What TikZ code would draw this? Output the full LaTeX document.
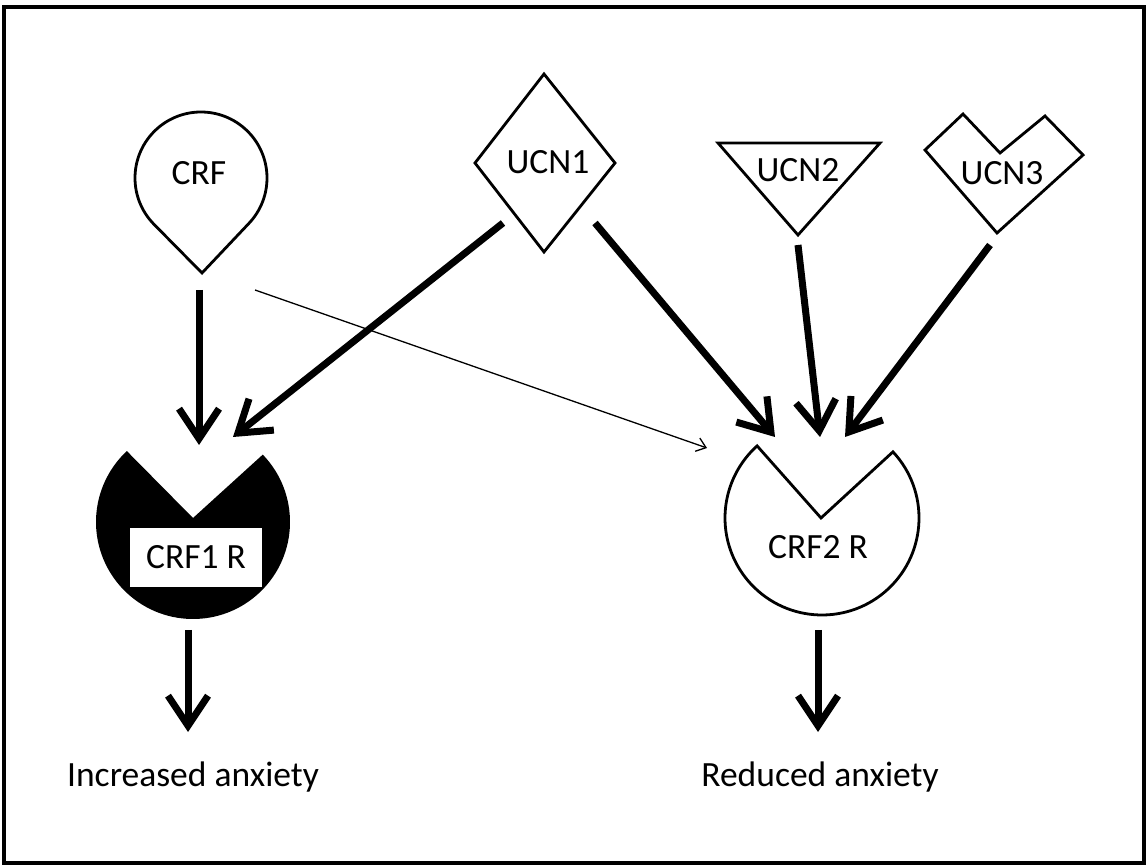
\documentclass[tikz,border=0pt]{standalone}
\usepackage{fontspec}
\setmainfont{Carlito}
\usetikzlibrary{arrows.meta,calc}
\tikzset{
  shapeline/.style={draw=black, line width=2.8pt, line join=miter, fill=white},
  bigarrow/.style={line width=7pt, -{Straight Barb[length=30pt,width=40pt,line width=7pt]}},
  thinarrow/.style={line width=1.3pt, -{Straight Barb[length=9pt,width=14pt,line width=1.3pt]}},
  lbl/.style={font=\fontsize{35.5}{40}\selectfont, inner sep=0pt},
}
\begin{document}
\begin{tikzpicture}[x=1pt,y=1pt]
\useasboundingbox (0,0) rectangle (1147,867);
\fill[white] (0,0) rectangle (1147,867);
% frame
\draw[line width=3.2pt] (4,4) rectangle (1144,860);

% CRF teardrop
\draw[shapeline] (202,594) -- ($(201,689)+(-44:66)$) arc[start angle=-44, end angle=224, radius=66] -- cycle;
\node[lbl] (crf) at (199,694) {CRF};

% UCN1 diamond
\draw[shapeline] (544,793) -- (615,704) -- (544,615) -- (475,704) -- cycle;
\node[lbl] (ucn1) at (548,705) {UCN1};

% UCN2 triangle
\draw[shapeline] (718,724) -- (880,724) -- (798,632) -- cycle;
\node[lbl] (ucn2) at (798,697) {UCN2};

% UCN3 notched diamond
\draw[shapeline] (925,717) -- (963,753) -- (1000,714) -- (1045,751) -- (1083,712) -- (997,634) -- cycle;
\node[lbl] (ucn3) at (1002,694) {UCN3};

% CRF1 R black receptor
\fill[black] (193,349) -- ($(193,345)+(44:97)$) arc[start angle=44, end angle=-227, radius=97] -- cycle;
\fill[white] (130,280) rectangle (262,339);
\node[lbl] (crf1r) at (196,310) {CRF1 R};

% CRF2 R white receptor
\draw[shapeline] (821,349) -- ($(822,349)+(43:97)$) arc[start angle=43, end angle=-228, radius=97] -- cycle;
\node[lbl] (crf2r) at (818,320) {CRF2 R};

% outcome labels
\node[lbl] (inc) at (193,90) {Increased anxiety};
\node[lbl] (red) at (820,90) {Reduced anxiety};

% connector end points
\coordinate (crfA) at (199,577);
\coordinate (crfB) at (255,577);
\coordinate (u1A) at (503,644);
\coordinate (u1B) at (595,644);
\coordinate (u2A) at (798,622);
\coordinate (u3A) at (990,622);
\coordinate (r1in) at (199,422);
\coordinate (r1in2) at (233,430);
\coordinate (r2inA) at (707,419);
\coordinate (r2inB) at (775,430);
\coordinate (r2inC) at (820,430);
\coordinate (r2inD) at (845,430);
\coordinate (r1out) at (188,237);
\coordinate (r2out) at (818,237);
\coordinate (incT) at (188,135);
\coordinate (redT) at (818,135);

\draw[bigarrow] (crfA) -- (r1in);
\draw[bigarrow] (u1A) -- (r1in2);
\draw[bigarrow] (u1B) -- (r2inB);
\draw[thinarrow] (crfB) -- (r2inA);
\draw[bigarrow] (u2A) -- (r2inC);
\draw[bigarrow] (u3A) -- (r2inD);
\draw[bigarrow] (r1out) -- (incT);
\draw[bigarrow] (r2out) -- (redT);
\end{tikzpicture}
\end{document}
